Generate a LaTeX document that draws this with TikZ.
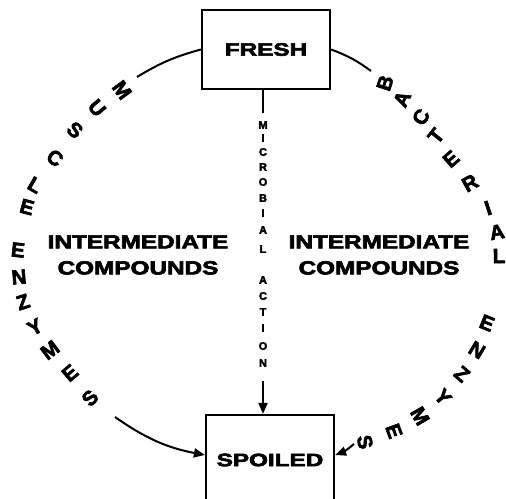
\documentclass[tikz,border=0pt]{standalone}
\usepackage{fontspec}
\newfontfamily\heavy{Liberation Sans}[BoldFeatures={FakeBold=3}]
\usetikzlibrary{arrows.meta}
\newcommand{\wide}[1]{\scalebox{1.35}[1]{#1}}

\begin{document}
\begin{tikzpicture}[
    x=1pt, y=1pt,
    state/.style={rectangle, draw, line width=2.2pt, minimum width=128pt, font=\heavy\bfseries\fontsize{18}{20}\selectfont},
    flow/.style={line width=2pt},
    tip/.style={-{Triangle[length=11pt,width=9pt]}},
    arcletter/.style={inner sep=0pt, font=\heavy\bfseries\fontsize{20.5}{20}\selectfont},
    stackletter/.style={inner sep=0pt, font=\heavy\bfseries\fontsize{11}{11}\selectfont},
    middle/.style={align=center, xscale=1.28, font=\heavy\bfseries\fontsize{19}{26}\selectfont}
]
\useasboundingbox (0,0) rectangle (506,-498);

\node[state, minimum height=79pt] (fresh) at (266,-49.5) {\wide{FRESH}};
\node[state, minimum height=90pt] (spoiled) at (270,-460) {\wide{SPOILED}};

\node[middle] (imleft) at (138,-255) {INTERMEDIATE\\COMPOUNDS};
\node[middle] (imright) at (379,-255) {INTERMEDIATE\\COMPOUNDS};

% microbial action, straight down
\coordinate (mtop) at (263,-113);
\coordinate (mbot) at (263,-381);
\draw[flow] (mtop |- fresh.south) -- (mtop);
\draw[flow, tip] (mbot) -- (mbot |- spoiled.north);
\foreach \ch/\y [count=\i] in {M/125,I/138,C/152,R/167,O/182,B/198,I/213,A/230,L/249,A/280,C/296,T/312,I/328,O/346,N/363}
  \node[stackletter] (micro-\i) at (263,-\y) {\ch};

% muscle enzymes, left arc
\coordinate (lstart) at (137,-77);
\coordinate (lend) at (115,-417);
\draw[flow] (fresh.west) to[bend right=8] (lstart);
\draw[flow, tip] (lend) to[bend right=12] ([yshift=5pt]spoiled.west);
\foreach \ch/\x/\y/\r [count=\i] in {M/122/90/-54, U/97/108/-50, S/75/130/-40, C/55/158/-36, L/35/185/-30, E/27/207/-15,
    E/18/250/-6, N/19/277/5, Z/23/302/18, Y/35/327/29, M/50/350/37, E/70/373/40, S/90/398/46}
  \node[arcletter, rotate=\r] (left-\i) at (\x,-\y) {\ch};

% bacterial enzymes, right arc
\coordinate (rstart) at (371,-71);
\coordinate (rend) at (354,-444);
\draw[flow] (fresh.east) to[bend left=8] (rstart);
\draw[flow, tip] (rend) to[bend left=10] ([yshift=5pt]spoiled.east);
\foreach \ch/\x/\y/\r [count=\i] in {B/385/83/72, A/402/99/65, C/421/117/59, T/436/136/51, E/451/159/41, R/470/183/29,
    I/488/208/18, A/497/232/10, L/499/256/1, E/487/323/-22, N/477/350/-31, Z/462/374/-41, Y/443/397/-50,
    M/420/416/-60, E/394/431/-70, S/365/442/-79}
  \node[arcletter, rotate=\r] (right-\i) at (\x,-\y) {\ch};

\end{tikzpicture}
\end{document}
